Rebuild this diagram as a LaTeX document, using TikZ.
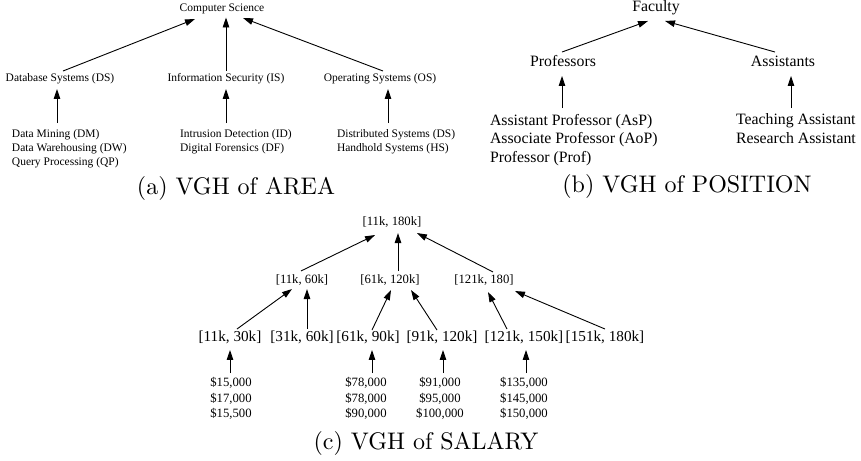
\documentclass[tikz,border=0pt]{standalone}
\usepackage{fontspec}
\newfontfamily\tnr{Liberation Serif}
\usetikzlibrary{arrows.meta}
\tikzset{
  arr/.style={line width=0.9pt, -{Triangle[length=10pt,width=6.5pt]}},
  ta/.style={font=\tnr\fontsize{11.5}{14}\selectfont, inner sep=0pt, outer sep=0pt, text height=8.05pt, text depth=2.53pt},
  tal/.style={font=\tnr\fontsize{11.5}{14}\selectfont, inner sep=0pt, outer sep=0pt, align=left, anchor=north west},
  tb/.style={font=\tnr\fontsize{15.8}{18.5}\selectfont, inner sep=0pt, outer sep=0pt, text height=11.06pt, text depth=3.48pt},
  tbl/.style={font=\tnr\fontsize{15.8}{18.5}\selectfont, inner sep=0pt, outer sep=0pt, align=left, anchor=north west},
  tc/.style={font=\tnr\fontsize{12.7}{15.5}\selectfont, inner sep=0pt, outer sep=0pt, text height=8.89pt, text depth=2.79pt},
  tcl/.style={font=\tnr\fontsize{15.2}{18}\selectfont, inner sep=0pt, outer sep=0pt, text height=10.64pt, text depth=3.34pt},
  tcv/.style={font=\tnr\fontsize{12.7}{15.5}\selectfont, inner sep=0pt, outer sep=0pt, align=center, anchor=north},
  captxt/.style={font=\fontsize{10}{12}\selectfont, inner sep=0pt, anchor=mid, scale=2.4, transform shape}
}
\begin{document}
\begin{tikzpicture}[x=1pt,y=-1pt]
\useasboundingbox (0,0) rectangle (861,460);
% ---------- (a) AREA ----------
\node[ta] (cs) at (222,9) {Computer Science};
\node[ta] (ds) at (60,79) {Database Systems (DS)};
\node[ta] (is) at (226,79) {Information Security (IS)};
\node[ta] (os) at (380,79) {Operating Systems (OS)};
\node[tal] (dsl) at (12,129.9) {Data Mining (DM)\\Data Warehousing (DW)\\Query Processing (QP)};
\node[tal] (isl) at (180,129.9) {Intrusion Detection (ID)\\Digital Forensics (DF)};
\node[tal] (osl) at (337,129.9) {Distributed Systems (DS)\\Handhold Systems (HS)};
\draw[arr] ([xshift=3pt,yshift=2.7pt]ds.north) -- ([xshift=-27pt,yshift=-4.7pt]cs.south);
\draw[arr] ([yshift=2.7pt]is.north) -- ([xshift=4pt,yshift=-3.2pt]cs.south);
\draw[arr] ([xshift=3pt,yshift=2.7pt]os.north) -- ([xshift=21pt,yshift=-3.7pt]cs.south);
\draw[arr] ([xshift=45pt,yshift=6.9pt]dsl.north west) -- ([xshift=-3pt,yshift=-4.7pt]ds.south);
\draw[arr] ([xshift=46pt,yshift=6.9pt]isl.north west) -- ([yshift=-4.7pt]is.south);
\draw[arr] ([xshift=51pt,yshift=6.9pt]osl.north west) -- ([xshift=8pt,yshift=-4.7pt]os.south);
\node[captxt] (capa) at (236,189) {(a) VGH of AREA};
% ---------- (b) POSITION ----------
\node[tb] (fac) at (656,8) {Faculty};
\node[tb] (prof) at (563,63) {Professors};
\node[tb] (asst) at (783,63) {Assistants};
\node[tbl] (profl) at (490,113.9) {Assistant Professor (AsP)\\Associate Professor (AoP)\\Professor (Prof)};
\node[tbl] (asstl) at (736,113.9) {Teaching Assistant\\Research Assistant};
\draw[arr] ([xshift=-1pt,yshift=3.7pt]prof.north) -- ([xshift=-8pt,yshift=-5.7pt]fac.south);
\draw[arr] ([xshift=-8pt,yshift=3.7pt]asst.north) -- ([xshift=9pt,yshift=-5.7pt]fac.south);
\draw[arr] ([xshift=72pt,yshift=5.9pt]profl.north west) -- ([xshift=-1pt,yshift=-5.7pt]prof.south);
\draw[arr] ([xshift=55pt,yshift=5.9pt]asstl.north west) -- ([xshift=8pt,yshift=-5.7pt]asst.south);
\node[captxt] (capb) at (687,187) {(b) VGH of POSITION};
% ---------- (c) SALARY ----------
\node[tc] (r) at (392,222) {[11k, 180k]};
\node[tc] (a) at (302,280) {[11k, 60k]};
\node[tc] (b) at (390,280) {[61k, 120k]};
\node[tc] (c) at (484,280) {[121k, 180]};
\node[tcl] (l1) at (230,338) {[11k, 30k]};
\node[tcl] (l2) at (302,338) {[31k, 60k]};
\node[tcl] (l3) at (368,338) {[61k, 90k]};
\node[tcl] (l4) at (442,338) {[91k, 120k]};
\node[tcl] (l5) at (524,338) {[121k, 150k]};
\node[tcl] (l6) at (605,338) {[151k, 180k]};
\node[tcv] (v1) at (231,377.5) {\$15,000\\\$17,000\\\$15,500};
\node[tcv] (v3) at (366,377.5) {\$78,000\\\$78,000\\\$90,000};
\node[tcv] (v4) at (440,377.5) {\$91,000\\\$95,000\\\$100,000};
\node[tcv] (v5) at (524,377.5) {\$135,000\\\$145,000\\\$150,000};
\draw[arr] ([xshift=-1pt,yshift=3.2pt]a.north) -- ([xshift=-17pt,yshift=-7.2pt]r.south);
\draw[arr] ([xshift=8pt,yshift=3.2pt]b.north) -- ([xshift=6pt,yshift=-5.2pt]r.south);
\draw[arr] ([xshift=9pt,yshift=2.2pt]c.north) -- ([xshift=25pt,yshift=-5.2pt]r.south);
\draw[arr] ([xshift=7pt,yshift=2pt]l1.north) -- ([xshift=-10pt,yshift=-3.2pt]a.south);
\draw[arr] ([xshift=5pt,yshift=2pt]l2.north) -- ([xshift=5pt,yshift=-3.2pt]a.south);
\draw[arr] ([xshift=4pt,yshift=1pt]l3.north) -- ([xshift=1pt,yshift=-4.2pt]b.south);
\draw[arr] ([xshift=-5pt,yshift=1pt]l4.north) -- ([xshift=21pt,yshift=-4.2pt]b.south);
\draw[arr] ([xshift=-17pt,yshift=2pt]l5.north) -- ([xshift=4pt,yshift=-6.2pt]c.south);
\draw[arr] ([yshift=2pt]l6.north) -- ([xshift=31pt,yshift=-5.2pt]c.south);
\draw[arr] ([xshift=-1pt,yshift=4.5pt]v1.north) -- ([yshift=-5pt]l1.south);
\draw[arr] ([xshift=6pt,yshift=4.5pt]v3.north) -- ([xshift=4pt,yshift=-5pt]l3.south);
\draw[arr] ([xshift=3pt,yshift=4.5pt]v4.north) -- ([xshift=1pt,yshift=-5pt]l4.south);
\draw[arr] ([xshift=2pt,yshift=4.5pt]v5.north) -- ([xshift=2pt,yshift=-5pt]l5.south);
\node[captxt] (capc) at (426,444) {(c) VGH of SALARY};
\end{tikzpicture}
\end{document}
